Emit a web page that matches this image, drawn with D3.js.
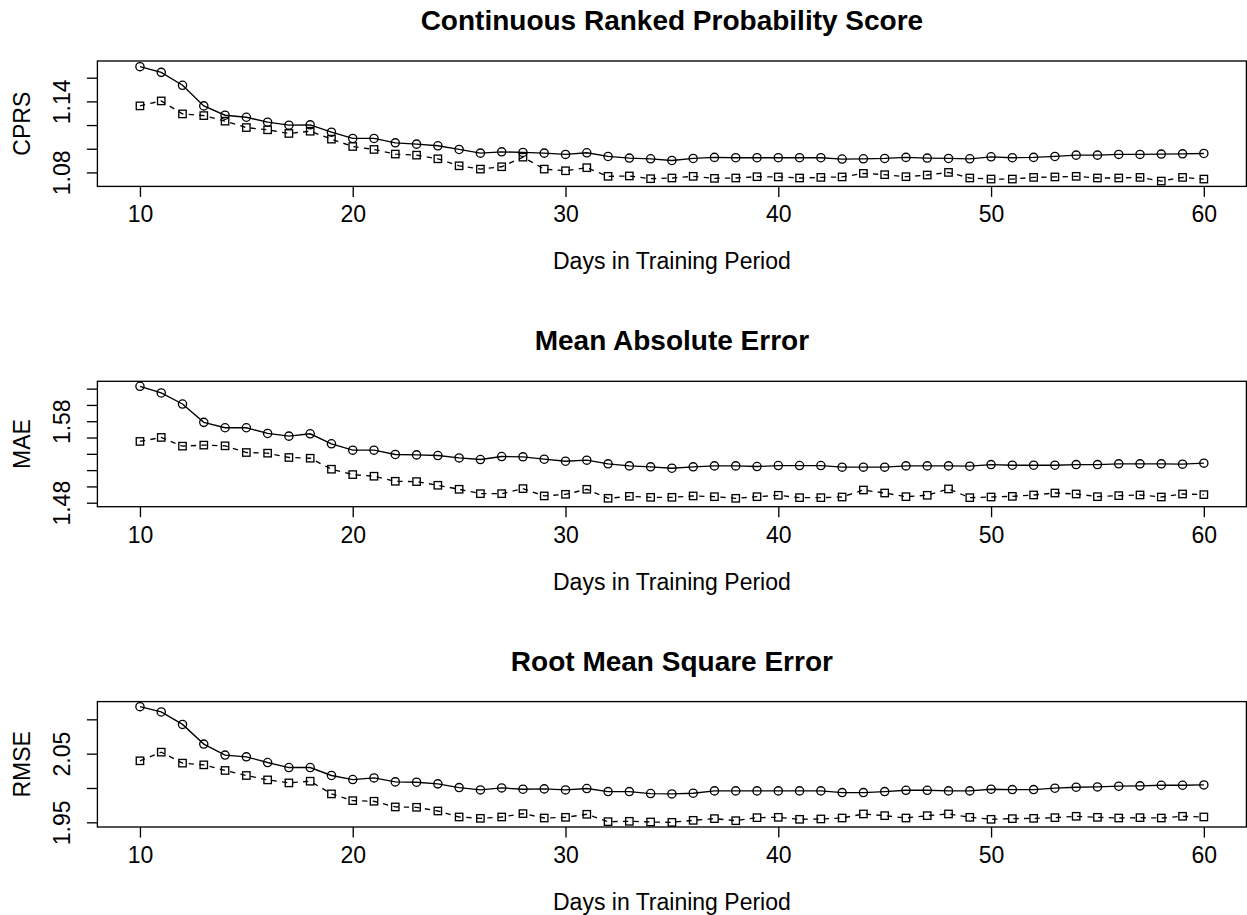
<!DOCTYPE html>
<html>
<head>
<meta charset="utf-8">
<script src="https://cdn.jsdelivr.net/npm/d3@7"></script>
<style>
  html, body { margin: 0; padding: 0; background: #fff; }
  svg { display: block; }
  text { font-family: "Liberation Sans", Arial, Helvetica, sans-serif; fill: #000; }
</style>
</head>
<body>
<svg id="chart" width="1247" height="915"></svg>
<script>
// ---- data ----
const days = [10,11,12,13,14,15,16,17,18,19,20,21,22,23,24,25,26,27,28,29,30,31,32,33,34,35,
  36,37,38,39,40,41,42,43,44,45,46,47,48,49,50,51,52,53,54,55,56,57,58,59,60];

const crpsCircle = [1.1693,1.1645,1.1536,1.1362,1.1283,1.1266,1.1224,1.1199,1.1202,1.1140,1.1087,1.1087,
  1.1050,1.1039,1.1025,1.0994,1.0963,1.0974,1.0969,1.0963,1.0952,1.0966,1.0935,1.0921,1.0915,1.0901,
  1.0918,1.0927,1.0924,1.0924,1.0924,1.0924,1.0924,1.0913,1.0915,1.0918,1.0927,1.0921,1.0918,1.0915,
  1.0932,1.0924,1.0927,1.0935,1.0946,1.0946,1.0952,1.0952,1.0955,1.0957,1.0960];
const crpsSquare = [1.1362,1.1404,1.1294,1.1280,1.1233,1.1179,1.1160,1.1129,1.1148,1.1081,1.1019,1.0994,
  1.0955,1.0946,1.0915,1.0856,1.0828,1.0848,1.0929,1.0828,1.0814,1.0840,1.0767,1.0770,1.0747,1.0753,
  1.0767,1.0750,1.0753,1.0764,1.0762,1.0753,1.0758,1.0762,1.0792,1.0781,1.0764,1.0778,1.0800,1.0753,
  1.0744,1.0744,1.0758,1.0762,1.0767,1.0753,1.0753,1.0758,1.0727,1.0758,1.0744];

const maeCircle = [1.6229,1.6147,1.6011,1.5786,1.5720,1.5720,1.5650,1.5617,1.5646,1.5523,1.5445,1.5445,
  1.5392,1.5387,1.5379,1.5350,1.5330,1.5367,1.5363,1.5334,1.5309,1.5322,1.5277,1.5252,1.5240,1.5223,
  1.5240,1.5252,1.5252,1.5244,1.5256,1.5256,1.5256,1.5236,1.5236,1.5236,1.5252,1.5252,1.5252,1.5248,
  1.5268,1.5260,1.5260,1.5260,1.5268,1.5268,1.5277,1.5277,1.5277,1.5273,1.5285];
const maeSquare = [1.5552,1.5601,1.5494,1.5507,1.5498,1.5416,1.5408,1.5355,1.5346,1.5211,1.5145,1.5125,
  1.5063,1.5059,1.5014,1.4965,1.4911,1.4911,1.4973,1.4883,1.4903,1.4965,1.4854,1.4878,1.4866,1.4866,
  1.4883,1.4874,1.4854,1.4874,1.4891,1.4862,1.4862,1.4870,1.4956,1.4919,1.4874,1.4891,1.4969,1.4862,
  1.4870,1.4878,1.4895,1.4919,1.4907,1.4874,1.4887,1.4895,1.4870,1.4907,1.4899];

const rmseCircle = [2.1184,2.1107,2.0926,2.0639,2.0479,2.0454,2.0371,2.0298,2.0298,2.0182,2.0123,2.0147,
  2.0089,2.0084,2.0060,2.0006,1.9972,2.0001,1.9982,1.9987,1.9972,1.9992,1.9948,1.9948,1.9919,1.9914,
  1.9924,1.9958,1.9958,1.9958,1.9958,1.9958,1.9958,1.9933,1.9933,1.9948,1.9967,1.9967,1.9958,1.9958,
  1.9982,1.9977,1.9977,1.9997,2.0011,2.0016,2.0026,2.0031,2.0040,2.0040,2.0045];
const rmseSquare = [2.0396,2.0522,2.0362,2.0337,2.0255,2.0182,2.0118,2.0074,2.0099,1.9914,1.9816,1.9807,
  1.9724,1.9719,1.9665,1.9578,1.9558,1.9578,1.9627,1.9563,1.9573,1.9617,1.9510,1.9515,1.9505,1.9500,
  1.9529,1.9554,1.9524,1.9568,1.9573,1.9544,1.9549,1.9563,1.9622,1.9597,1.9563,1.9597,1.9622,1.9573,
  1.9544,1.9554,1.9558,1.9568,1.9588,1.9573,1.9563,1.9568,1.9563,1.9588,1.9578];

const titles = ["Continuous Ranked Probability Score", "Mean Absolute Error", "Root Mean Square Error"];
const yLabels = ["CPRS", "MAE", "RMSE"];
const xLabel = "Days in Training Period";

const xLimits = [8, 62];
const xTicks = [10, 20, 30, 40, 50, 60];

const crpsLimits = [1.0682, 1.1741];
const maeLimits = [1.4751, 1.6290];
const rmseLimits = [1.9432, 2.1258];

const crpsTicks = [1.08, 1.10, 1.12, 1.14, 1.16];
const maeTicks = [1.48, 1.50, 1.52, 1.54, 1.56, 1.58, 1.60, 1.62];
const rmseTicks = [1.95, 2.00, 2.05, 2.10];

const crpsTickLabels = [1.08, 1.14];
const maeTickLabels = [1.48, 1.58];
const rmseTickLabels = [1.95, 2.05];

// ---- layout ----
const panels = [
  { title: titles[0], ylab: yLabels[0], circ: crpsCircle, sq: crpsSquare, lim: crpsLimits, ticks: crpsTicks, labs: crpsTickLabels },
  { title: titles[1], ylab: yLabels[1], circ: maeCircle, sq: maeSquare, lim: maeLimits, ticks: maeTicks, labs: maeTickLabels },
  { title: titles[2], ylab: yLabels[2], circ: rmseCircle, sq: rmseSquare, lim: rmseLimits, ticks: rmseTicks, labs: rmseTickLabels }
];

const boxLeft = 97.4, boxRight = 1246.4;
const firstTop = 61, panelStep = 320.3, boxH = 125.4;
const fs = 23, titleFs = 28;
const lw = 1.33;

const svg = d3.select("#chart");
const x = d3.scaleLinear().domain(xLimits).range([boxLeft, boxRight]);

panels.forEach((p, i) => {
  const top = firstTop + i * panelStep;
  const bottom = top + boxH;
  const y = d3.scaleLinear().domain(p.lim).range([bottom, top]);
  const g = svg.append("g");

  // title
  g.append("text")
    .attr("x", (boxLeft + boxRight) / 2)
    .attr("y", top - 31)
    .attr("text-anchor", "middle")
    .attr("font-size", titleFs)
    .attr("font-weight", "bold")
    .text(p.title);

  // x axis
  const xa = g.append("g")
    .attr("transform", `translate(0,${bottom})`)
    .call(d3.axisBottom(x).tickValues(xTicks).tickSize(10.5).tickPadding(4).tickFormat(d3.format("d")));
  xa.select(".domain").remove();
  xa.selectAll("line").attr("stroke", "#000").attr("stroke-width", lw);
  xa.selectAll("text")
    .attr("font-size", fs)
    .attr("font-family", "Liberation Sans, Arial, sans-serif")
    .attr("fill", "#000")
    .attr("y", 36).attr("dy", null);

  // x label
  g.append("text")
    .attr("x", (boxLeft + boxRight) / 2)
    .attr("y", bottom + 83)
    .attr("text-anchor", "middle")
    .attr("font-size", fs)
    .text(xLabel);

  // y axis
  const ya = g.append("g")
    .attr("transform", `translate(${boxLeft},0)`)
    .call(d3.axisLeft(y).tickValues(p.ticks).tickSize(10.5)
      .tickFormat(d => p.labs.some(v => Math.abs(v - d) < 1e-9) ? d3.format(".2f")(d) : ""));
  ya.select(".domain").remove();
  ya.selectAll("line").attr("stroke", "#000").attr("stroke-width", lw);
  ya.selectAll("text")
    .attr("font-size", fs)
    .attr("font-family", "Liberation Sans, Arial, sans-serif")
    .attr("fill", "#000")
    .attr("x", null).attr("dy", null)
    .attr("text-anchor", "middle")
    .attr("transform", "translate(-27,0) rotate(-90)");

  // y label
  g.append("text")
    .attr("transform", `translate(${boxLeft - 67},${(top + bottom) / 2}) rotate(-90)`)
    .attr("text-anchor", "middle")
    .attr("font-size", fs)
    .text(p.ylab);

  // box
  g.append("rect")
    .attr("x", boxLeft).attr("y", top)
    .attr("width", boxRight - boxLeft).attr("height", boxH)
    .attr("fill", "none").attr("stroke", "#000").attr("stroke-width", lw);

  const line = d3.line().x((d, k) => x(days[k])).y(d => y(d));

  // dashed square series
  g.append("path")
    .datum(p.sq)
    .attr("d", line)
    .attr("fill", "none").attr("stroke", "#000")
    .attr("stroke-width", lw).attr("stroke-dasharray", "5.3,5.3");
  const s = 7.4;
  g.selectAll(".sq").data(p.sq).enter().append("rect")
    .attr("x", (d, k) => x(days[k]) - s / 2)
    .attr("y", d => y(d) - s / 2)
    .attr("width", s).attr("height", s)
    .attr("fill", "none").attr("stroke", "#000").attr("stroke-width", lw);

  // solid circle series
  g.append("path")
    .datum(p.circ)
    .attr("d", line)
    .attr("fill", "none").attr("stroke", "#000").attr("stroke-width", lw);
  g.selectAll(".ci").data(p.circ).enter().append("circle")
    .attr("cx", (d, k) => x(days[k]))
    .attr("cy", d => y(d))
    .attr("r", 4.1)
    .attr("fill", "none").attr("stroke", "#000").attr("stroke-width", lw);
});
</script>
</body>
</html>
